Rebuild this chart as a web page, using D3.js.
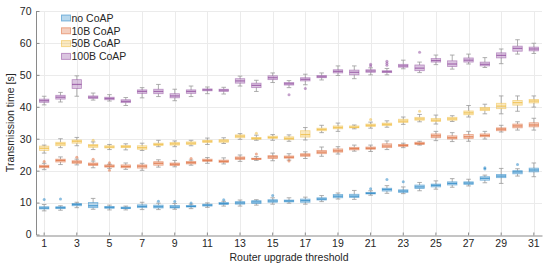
<!DOCTYPE html>
<html>
<head>
<meta charset="utf-8">
<script src="https://cdn.jsdelivr.net/npm/d3@7"></script>
<style>
  body { margin: 0; background: #fff; }
  text { font-family: "Liberation Sans", Arial, sans-serif; }
</style>
</head>
<body>
<div id="plot"></div>
<script>
// thresholds 1..31
const thresholds = d3.range(1, 32);
const yTicks = [0, 10, 20, 30, 40, 50, 60, 70];
const xTicks = thresholds.filter(d => d % 2 === 1);

const seriesNames = ["no CoAP", "10B CoAP", "50B CoAP", "100B CoAP"];
const seriesColors = ["#0072BD", "#D95319", "#EDB120", "#7E2F8E"];

// [whisker low, q1, median, q3, whisker high]
const noCoap = [
  [7.4, 8.0, 8.3, 8.7, 9.4], [7.6, 8.1, 8.4, 8.7, 9.0], [8.4, 9.0, 9.4, 9.7, 10.1],
  [7.9, 8.4, 9.0, 10.0, 11.3], [7.7, 8.2, 8.5, 8.8, 9.2], [7.7, 8.1, 8.3, 8.6, 8.9],
  [7.8, 8.4, 8.8, 9.3, 10.1], [7.8, 8.3, 8.7, 9.2, 9.8], [7.9, 8.3, 8.6, 9.1, 9.7],
  [8.1, 8.6, 8.8, 9.1, 9.5], [8.5, 8.9, 9.2, 9.5, 9.9], [8.9, 9.4, 9.7, 10.0, 10.4],
  [8.9, 9.5, 9.9, 10.3, 10.8], [9.2, 9.7, 10.2, 10.6, 10.9], [9.5, 10.1, 10.5, 10.9, 11.5],
  [9.8, 10.2, 10.5, 10.8, 11.5], [9.5, 10.1, 10.6, 11.1, 11.7], [10.3, 10.8, 11.1, 11.5, 12.2],
  [11.1, 11.5, 12.0, 12.5, 13.0], [11.0, 11.6, 12.0, 12.6, 13.8], [12.3, 12.7, 12.9, 13.2, 13.7],
  [12.9, 13.6, 14.1, 14.5, 15.3], [12.8, 13.2, 13.6, 14.0, 14.9], [13.7, 14.4, 14.9, 15.5, 16.3],
  [14.2, 14.9, 15.4, 15.8, 16.8], [14.8, 15.5, 16.0, 16.5, 17.5], [15.2, 15.7, 16.1, 16.5, 17.3],
  [16.2, 17.0, 17.6, 18.1, 18.6], [16.0, 17.8, 18.3, 18.8, 20.7], [18.3, 19.0, 19.6, 20.0, 20.6],
  [18.1, 19.6, 20.2, 20.8, 22.4]
];
const coap10 = [
  [20.3, 20.9, 21.3, 21.7, 22.3], [21.9, 22.7, 23.2, 23.6, 24.3], [21.8, 22.3, 22.7, 23.1, 23.6],
  [20.9, 21.6, 22.0, 22.4, 23.0], [20.7, 21.1, 21.4, 21.8, 22.0], [20.4, 20.9, 21.3, 21.8, 22.4],
  [20.1, 20.8, 21.4, 21.8, 22.3], [21.1, 21.7, 22.3, 22.8, 23.4], [21.2, 21.6, 22.0, 22.4, 23.2],
  [21.7, 22.1, 22.5, 22.9, 23.3], [22.3, 22.9, 23.2, 23.6, 24.1], [22.1, 22.6, 22.9, 23.3, 24.0],
  [22.9, 23.5, 23.9, 24.3, 24.9], [23.2, 23.5, 23.7, 23.9, 24.4], [23.1, 23.8, 24.3, 24.7, 25.5],
  [23.3, 23.9, 24.2, 24.6, 25.3], [23.8, 24.5, 24.9, 25.3, 25.9], [24.5, 25.3, 25.8, 26.3, 27.4],
  [25.2, 25.8, 26.2, 26.8, 27.5], [26.1, 26.5, 26.9, 27.3, 28.0], [26.0, 26.7, 27.0, 27.4, 28.0],
  [26.6, 27.2, 27.7, 28.4, 29.3], [27.2, 27.6, 27.9, 28.2, 28.6], [28.0, 28.2, 28.5, 28.9, 29.2],
  [29.4, 30.3, 30.9, 31.5, 32.3], [29.1, 29.9, 30.3, 30.9, 31.9], [29.2, 30.1, 30.6, 31.3, 32.3],
  [29.9, 30.6, 31.0, 31.5, 32.3], [32.1, 32.5, 33.0, 33.4, 34.2], [32.7, 33.4, 34.0, 34.6, 35.3],
  [32.7, 33.7, 34.3, 35.0, 36.4]
];
const coap50 = [
  [25.5, 26.3, 27.0, 27.7, 28.0], [27.2, 27.8, 28.4, 28.9, 30.0], [27.8, 28.6, 29.2, 29.6, 30.4],
  [26.6, 27.3, 27.8, 28.2, 29.0], [26.6, 27.1, 27.4, 27.8, 28.2], [26.5, 27.2, 27.5, 27.9, 28.4],
  [26.3, 26.7, 27.2, 27.8, 28.6], [27.5, 27.9, 28.2, 28.6, 29.5], [27.5, 28.0, 28.4, 28.8, 29.3],
  [27.8, 28.2, 28.6, 29.0, 29.5], [28.2, 28.8, 29.2, 29.5, 30.2], [28.5, 28.9, 29.3, 29.7, 30.3],
  [29.8, 30.3, 30.8, 31.2, 31.6], [29.5, 29.8, 30.1, 30.4, 31.1], [29.5, 30.1, 30.4, 30.8, 31.3],
  [29.2, 29.7, 30.1, 30.6, 31.2], [29.6, 30.5, 31.3, 32.5, 33.5], [31.9, 32.5, 32.9, 33.3, 34.2],
  [32.3, 33.1, 33.5, 34.0, 34.9], [33.1, 33.4, 33.6, 34.0, 34.3], [33.3, 33.8, 34.2, 34.6, 35.2],
  [33.6, 34.1, 34.5, 34.9, 35.6], [34.5, 35.1, 35.5, 36.1, 36.8], [35.3, 35.8, 36.2, 36.7, 37.6],
  [34.6, 35.4, 35.8, 36.3, 37.4], [35.4, 35.8, 36.2, 36.7, 37.2], [36.8, 37.5, 38.1, 38.7, 40.4],
  [37.8, 38.8, 39.3, 39.8, 40.8], [37.8, 39.4, 40.2, 41.1, 43.4], [38.6, 40.5, 41.3, 42.0, 43.4],
  [39.9, 41.2, 41.8, 42.3, 43.4]
];
const coap100 = [
  [40.6, 41.4, 41.9, 42.4, 43.3], [41.5, 42.4, 43.0, 43.6, 44.5], [43.3, 45.7, 47.0, 48.5, 49.7],
  [42.1, 42.6, 43.0, 43.4, 44.3], [41.8, 42.2, 42.6, 43.0, 43.8], [40.4, 41.3, 41.7, 42.2, 42.9],
  [42.8, 44.2, 44.8, 45.3, 46.0], [43.2, 44.1, 44.8, 45.5, 47.0], [41.9, 42.8, 43.4, 44.1, 45.5],
  [43.2, 44.2, 44.8, 45.3, 46.5], [44.1, 45.0, 45.3, 45.6, 46.2], [44.0, 44.8, 45.2, 45.5, 46.1],
  [46.5, 47.4, 48.1, 48.8, 49.6], [44.8, 46.0, 46.7, 47.4, 48.3], [47.6, 48.5, 49.1, 49.7, 50.6],
  [46.0, 46.8, 47.2, 47.6, 48.2], [46.9, 48.1, 48.6, 49.1, 50.2], [48.4, 49.1, 49.4, 49.8, 50.6],
  [49.8, 50.6, 51.1, 51.6, 52.8], [48.8, 50.0, 50.8, 51.5, 52.8], [50.0, 50.8, 51.2, 51.6, 52.2],
  [50.0, 50.7, 51.0, 51.3, 52.0], [51.9, 52.4, 52.8, 53.3, 54.6], [50.7, 51.3, 52.1, 53.1, 54.0],
  [53.2, 54.0, 54.5, 55.1, 56.2], [51.8, 52.6, 53.4, 54.4, 56.2], [53.4, 54.0, 54.6, 55.3, 56.5],
  [52.3, 52.8, 53.3, 54.0, 55.4], [53.5, 55.3, 56.1, 56.9, 58.1], [56.5, 57.4, 58.3, 59.0, 61.0],
  [56.7, 57.5, 58.1, 58.7, 59.9]
];

// outliers: [threshold, value]
const outNoCoap = [[1, 11.0], [2, 11.1], [8, 10.4], [9, 10.3], [10, 9.9], [12, 10.9], [15, 12.2],
  [21, 14.3], [22, 17.2], [23, 16.5], [28, 20.5], [28, 20.9], [30, 21.9]];
const out10 = [[1, 22.9], [3, 24.2], [4, 23.6], [5, 22.5], [5, 20.1], [10, 23.8], [14, 25.2], [16, 23.0]];
const out50 = [[4, 29.5], [14, 31.7], [21, 36.0], [24, 38.6]];
const out100 = [[16, 43.8], [17, 45.7], [21, 52.8], [21, 53.3], [22, 53.0], [22, 53.6], [22, 54.3], [24, 57.1]];

const allBoxes = [noCoap, coap10, coap50, coap100];
const allOutliers = [outNoCoap, out10, out50, out100];

const width = 550, height = 267;
const margin = { top: 11, right: 8, bottom: 33, left: 36 };

const svg = d3.select("#plot").append("svg")
  .attr("width", width)
  .attr("height", height);

const x = d3.scaleBand()
  .domain(thresholds)
  .range([margin.left, width - margin.right]);

const y = d3.scaleLinear()
  .domain([0, 70])
  .range([height - margin.bottom + 0.5, margin.top]);

const cx = d => x(d) + x.bandwidth() / 2;

// grid
svg.append("g")
  .selectAll("line.hg")
  .data(yTicks.slice(1))
  .enter().append("line")
  .attr("x1", margin.left).attr("x2", width - margin.right)
  .attr("y1", d => Math.round(y(d)) + 0.5).attr("y2", d => Math.round(y(d)) + 0.5)
  .attr("stroke", "#ebebeb");

svg.append("g")
  .selectAll("line.vg")
  .data(xTicks)
  .enter().append("line")
  .attr("x1", d => Math.round(cx(d)) + 0.5).attr("x2", d => Math.round(cx(d)) + 0.5)
  .attr("y1", y(0)).attr("y2", y(70))
  .attr("stroke", "#ebebeb");

// axes
const xAxis = svg.append("g")
  .attr("transform", `translate(0,${Math.round(y(0)) + 0.5})`)
  .call(d3.axisBottom(x).tickValues(xTicks).tickSizeInner(-3).tickSizeOuter(0).tickPadding(4));
const yAxis = svg.append("g")
  .attr("transform", `translate(${margin.left + 0.5},0)`)
  .call(d3.axisLeft(y).tickValues(yTicks).tickSizeInner(-3).tickSizeOuter(0).tickPadding(5));

[xAxis, yAxis].forEach(a => {
  a.select(".domain").attr("stroke", "#8a8a8a");
  a.selectAll(".tick line").attr("stroke", "#8a8a8a");
  a.selectAll(".tick text")
    .attr("fill", "#262626")
    .style("font-size", "10.5px")
    .style("font-family", "'Liberation Sans', Arial, sans-serif");
});
yAxis.select(".domain").attr("d", `M0,${Math.round(y(0))}V${y(70)}`);

// boxes
const boxW = x.bandwidth() * 0.58;
const capW = x.bandwidth() * 0.28;

allBoxes.forEach((boxes, si) => {
  const col = seriesColors[si];
  const g = svg.append("g");
  const b = g.selectAll("g.box")
    .data(boxes.map((v, i) => ({ t: thresholds[i], v })))
    .enter().append("g");

  // whiskers
  b.append("line")
    .attr("x1", d => cx(d.t)).attr("x2", d => cx(d.t))
    .attr("y1", d => y(d.v[0])).attr("y2", d => y(d.v[1]))
    .attr("stroke", "#9a9a9a").attr("stroke-width", 0.8);
  b.append("line")
    .attr("x1", d => cx(d.t)).attr("x2", d => cx(d.t))
    .attr("y1", d => y(d.v[3])).attr("y2", d => y(d.v[4]))
    .attr("stroke", "#9a9a9a").attr("stroke-width", 0.8);
  [0, 4].forEach(k => {
    b.append("line")
      .attr("x1", d => cx(d.t) - capW / 2).attr("x2", d => cx(d.t) + capW / 2)
      .attr("y1", d => y(d.v[k])).attr("y2", d => y(d.v[k]))
      .attr("stroke", "#9a9a9a").attr("stroke-width", 0.8);
  });

  b.append("rect")
    .attr("x", d => cx(d.t) - boxW / 2)
    .attr("width", boxW)
    .attr("y", d => y(d.v[3]))
    .attr("height", d => y(d.v[1]) - y(d.v[3]))
    .attr("fill", col).attr("fill-opacity", 0.28)
    .attr("stroke", col).attr("stroke-opacity", 0.45).attr("stroke-width", 0.8);

  b.append("line")
    .attr("x1", d => cx(d.t) - boxW / 2).attr("x2", d => cx(d.t) + boxW / 2)
    .attr("y1", d => y(d.v[2])).attr("y2", d => y(d.v[2]))
    .attr("stroke", col).attr("stroke-opacity", 0.6).attr("stroke-width", 1.2);

  g.selectAll("circle")
    .data(allOutliers[si])
    .enter().append("circle")
    .attr("cx", d => cx(d[0]))
    .attr("cy", d => y(d[1]))
    .attr("r", 1.5)
    .attr("fill", col).attr("fill-opacity", 0.45);
});

// axis labels
svg.append("text")
  .attr("x", (margin.left + width - margin.right) / 2)
  .attr("y", 261)
  .attr("text-anchor", "middle")
  .style("font-size", "10.5px")
  .attr("fill", "#262626")
  .text("Router upgrade threshold");

svg.append("text")
  .attr("transform", `translate(14,${(y(0) + y(70)) / 2}) rotate(-90)`)
  .attr("text-anchor", "middle")
  .style("font-size", "10.5px")
  .attr("fill", "#262626")
  .text("Transmission time [s]");

// legend
const legend = svg.append("g").attr("transform", "translate(61,18)");
const items = legend.selectAll("g")
  .data(seriesNames)
  .enter().append("g")
  .attr("transform", (d, i) => `translate(0,${i * 12.8})`);
items.append("rect")
  .attr("x", 0.5).attr("y", -3)
  .attr("width", 9).attr("height", 6)
  .attr("fill", (d, i) => seriesColors[i]).attr("fill-opacity", 0.28)
  .attr("stroke", (d, i) => seriesColors[i]).attr("stroke-opacity", 0.45);
items.append("text")
  .attr("x", 10.5).attr("y", 3.8)
  .style("font-size", "10.5px")
  .attr("fill", "#262626")
  .text(d => d);
</script>
</body>
</html>
